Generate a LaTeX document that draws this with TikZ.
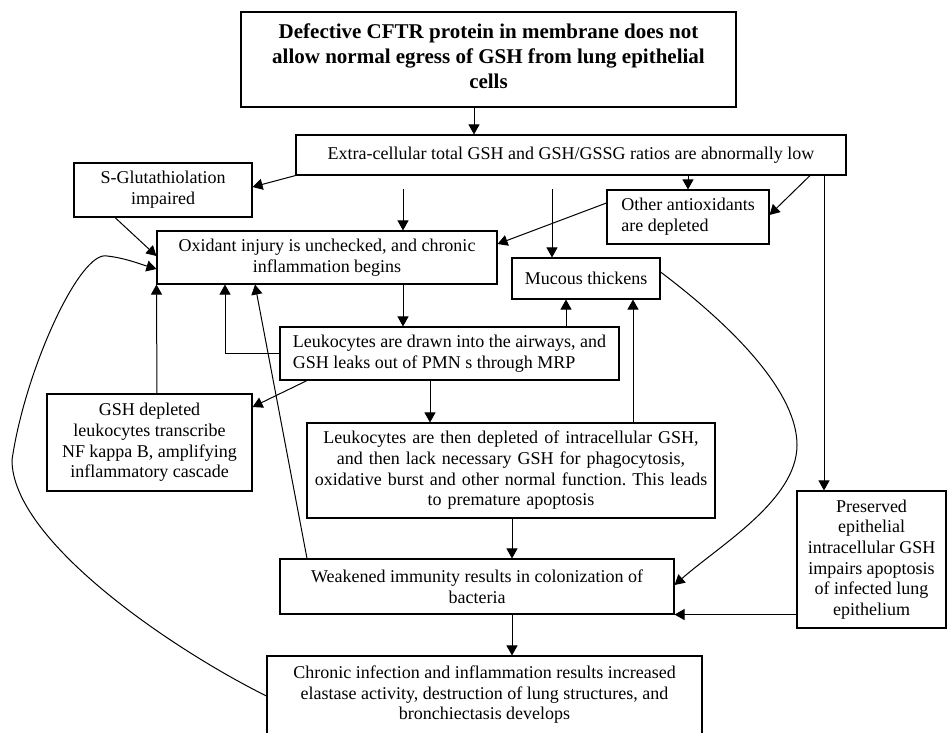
\documentclass[tikz,border=0pt]{standalone}
\usepackage{fontspec}
\setmainfont{Liberation Serif}
\frenchspacing
\usetikzlibrary{arrows.meta,calc}
\begin{document}
\begin{tikzpicture}[x=1pt,y=-1pt,
 box/.style={draw, line width=1.1pt, inner sep=0pt, align=center, font=\fontsize{18}{20.7}\selectfont},
 arr/.style={draw, line width=1pt, -{Triangle[length=10pt,width=11pt]}}]
\clip (0,0) rectangle (950,733);
\fill[white] (0,0) rectangle (950,733);
\node[box, minimum width=495pt, minimum height=95pt, font=\bfseries\fontsize{21}{25}\selectfont] (top) at (488.5,59.5)
 {Defective CFTR protein in membrane does not\\allow normal egress of GSH from lung epithelial\\cells\\[-18pt]\mbox{}};
\node[box, minimum width=550pt, minimum height=40pt] (extra) at (571,155)
 {Extra-cellular total GSH and GSH/GSSG ratios are abnormally low};
\node[box, minimum width=178pt, minimum height=54pt] (sglut) at (163,190)
 {S-Glutathiolation\\impaired};
\node[box, minimum width=340pt, minimum height=53pt] (oxid) at (327,257.5)
 {Oxidant injury is unchecked, and chronic\\inflammation begins};
\node[box, minimum width=162pt, minimum height=54pt, align=left] (other) at (688,217)
 {Other antioxidants\\are depleted};
\node[box, minimum width=148pt, minimum height=41pt] (mucous) at (586,278.5)
 {Mucous thickens};
\node[box, minimum width=339pt, minimum height=53pt, align=left] (leuk1) at (449.5,353.5)
 {Leukocytes are drawn into the airways, and\\GSH leaks out of PMN s through MRP};
\node[box, minimum width=205pt, minimum height=97pt] (gshdep) at (149.5,442.5)
 {GSH depleted\\leukocytes transcribe\\NF kappa B, amplifying\\inflammatory cascade};
\node[box, text width=408pt, minimum height=95pt] (leuk2) at (511,470.5)
 {Leukocytes are then depleted of intracellular GSH,\\and then lack necessary GSH for phagocytosis,\\oxidative burst and other normal function. This leads\\to premature apoptosis};
\node[box, minimum width=394pt, minimum height=55pt] (weak) at (477,586.5)
 {Weakened immunity results in colonization of\\bacteria};
\node[box, minimum width=435pt, minimum height=89pt] (chronic) at (484.5,700.5)
 {Chronic infection and inflammation results increased\\elastase activity, destruction of lung structures, and\\bronchiectasis develops\\[-5.5pt]\mbox{}};
\node[box, minimum width=149pt, minimum height=137pt] (preserved) at (871.5,559.5)
 {Preserved\\epithelial\\intracellular GSH\\impairs apoptosis\\of infected lung\\epithelium};
% connectors
\coordinate (s3) at (403,189);
\coordinate (s4) at (552,189);
\draw[arr] ([xshift=-14.5pt]top.south) -- ([xshift=-14.5pt]top.south |- extra.north);
\draw[arr] (extra.south west) -- ([yshift=3pt]sglut.east);
\draw[arr] (s3) -- (s3 |- oxid.north);
\draw[arr] (s4) -- (s4 |- mucous.north);
\draw[arr] (other.north |- extra.south) -- (other.north);
\draw[arr] ([xshift=239pt]extra.south) -- ([yshift=2pt]other.east);
\draw[arr] ([xshift=253pt]extra.south) -- ([xshift=253pt]extra.south |- preserved.north);
\draw[arr] ([yshift=14pt]other.west) -- ([yshift=13.5pt]oxid.east);
\draw[arr] ([xshift=-48pt]sglut.south) -- ([yshift=1.5pt]oxid.west);
\draw[arr] (s3 |- oxid.south) -- (s3 |- leuk1.north);
\draw[arr] (leuk1.west) -| ([xshift=-102pt]oxid.south);
\draw[arr] ([xshift=-142.5pt]leuk1.south) -- ([yshift=35.5pt]gshdep.east);
\draw[arr] ([xshift=7.5pt]gshdep.north) -- (oxid.south west);
\draw[arr] ([xshift=116.5pt]leuk1.north) -- ([xshift=116.5pt]leuk1.north |- mucous.south);
\draw[arr] ([xshift=-19.5pt]leuk1.south) -- ([xshift=-19.5pt]leuk1.south |- leuk2.north);
\draw[arr] ([xshift=122pt]leuk2.north) -- ([xshift=122pt]leuk2.north |- mucous.south);
\draw[arr] ([xshift=-170pt]weak.north) -- ([xshift=-72pt]oxid.south);
\draw[arr] ([xshift=1pt]leuk2.south) -- ([xshift=1pt]leuk2.south |- weak.north);
\draw[arr] ([xshift=35pt]weak.south) -- ([xshift=35pt]weak.south |- chronic.north);
\draw[arr] (preserved.west |- weak.south east) -- (weak.south east);
\draw[arr] ([yshift=6.5pt]mucous.east) .. controls (740,332) and (797,395) .. (797,445)
  .. controls (797,500) and (720,545) .. ([yshift=1.5pt]weak.east);
\draw[arr] ([yshift=4.5pt]chronic.west) .. controls (170,648) and (12,540) .. (12,460)
  .. controls (25,370) and (80,250) .. (107,256)
  .. controls (125,258) and (140,264) .. ([yshift=-11.5pt]oxid.west);
\end{tikzpicture}
\end{document}
